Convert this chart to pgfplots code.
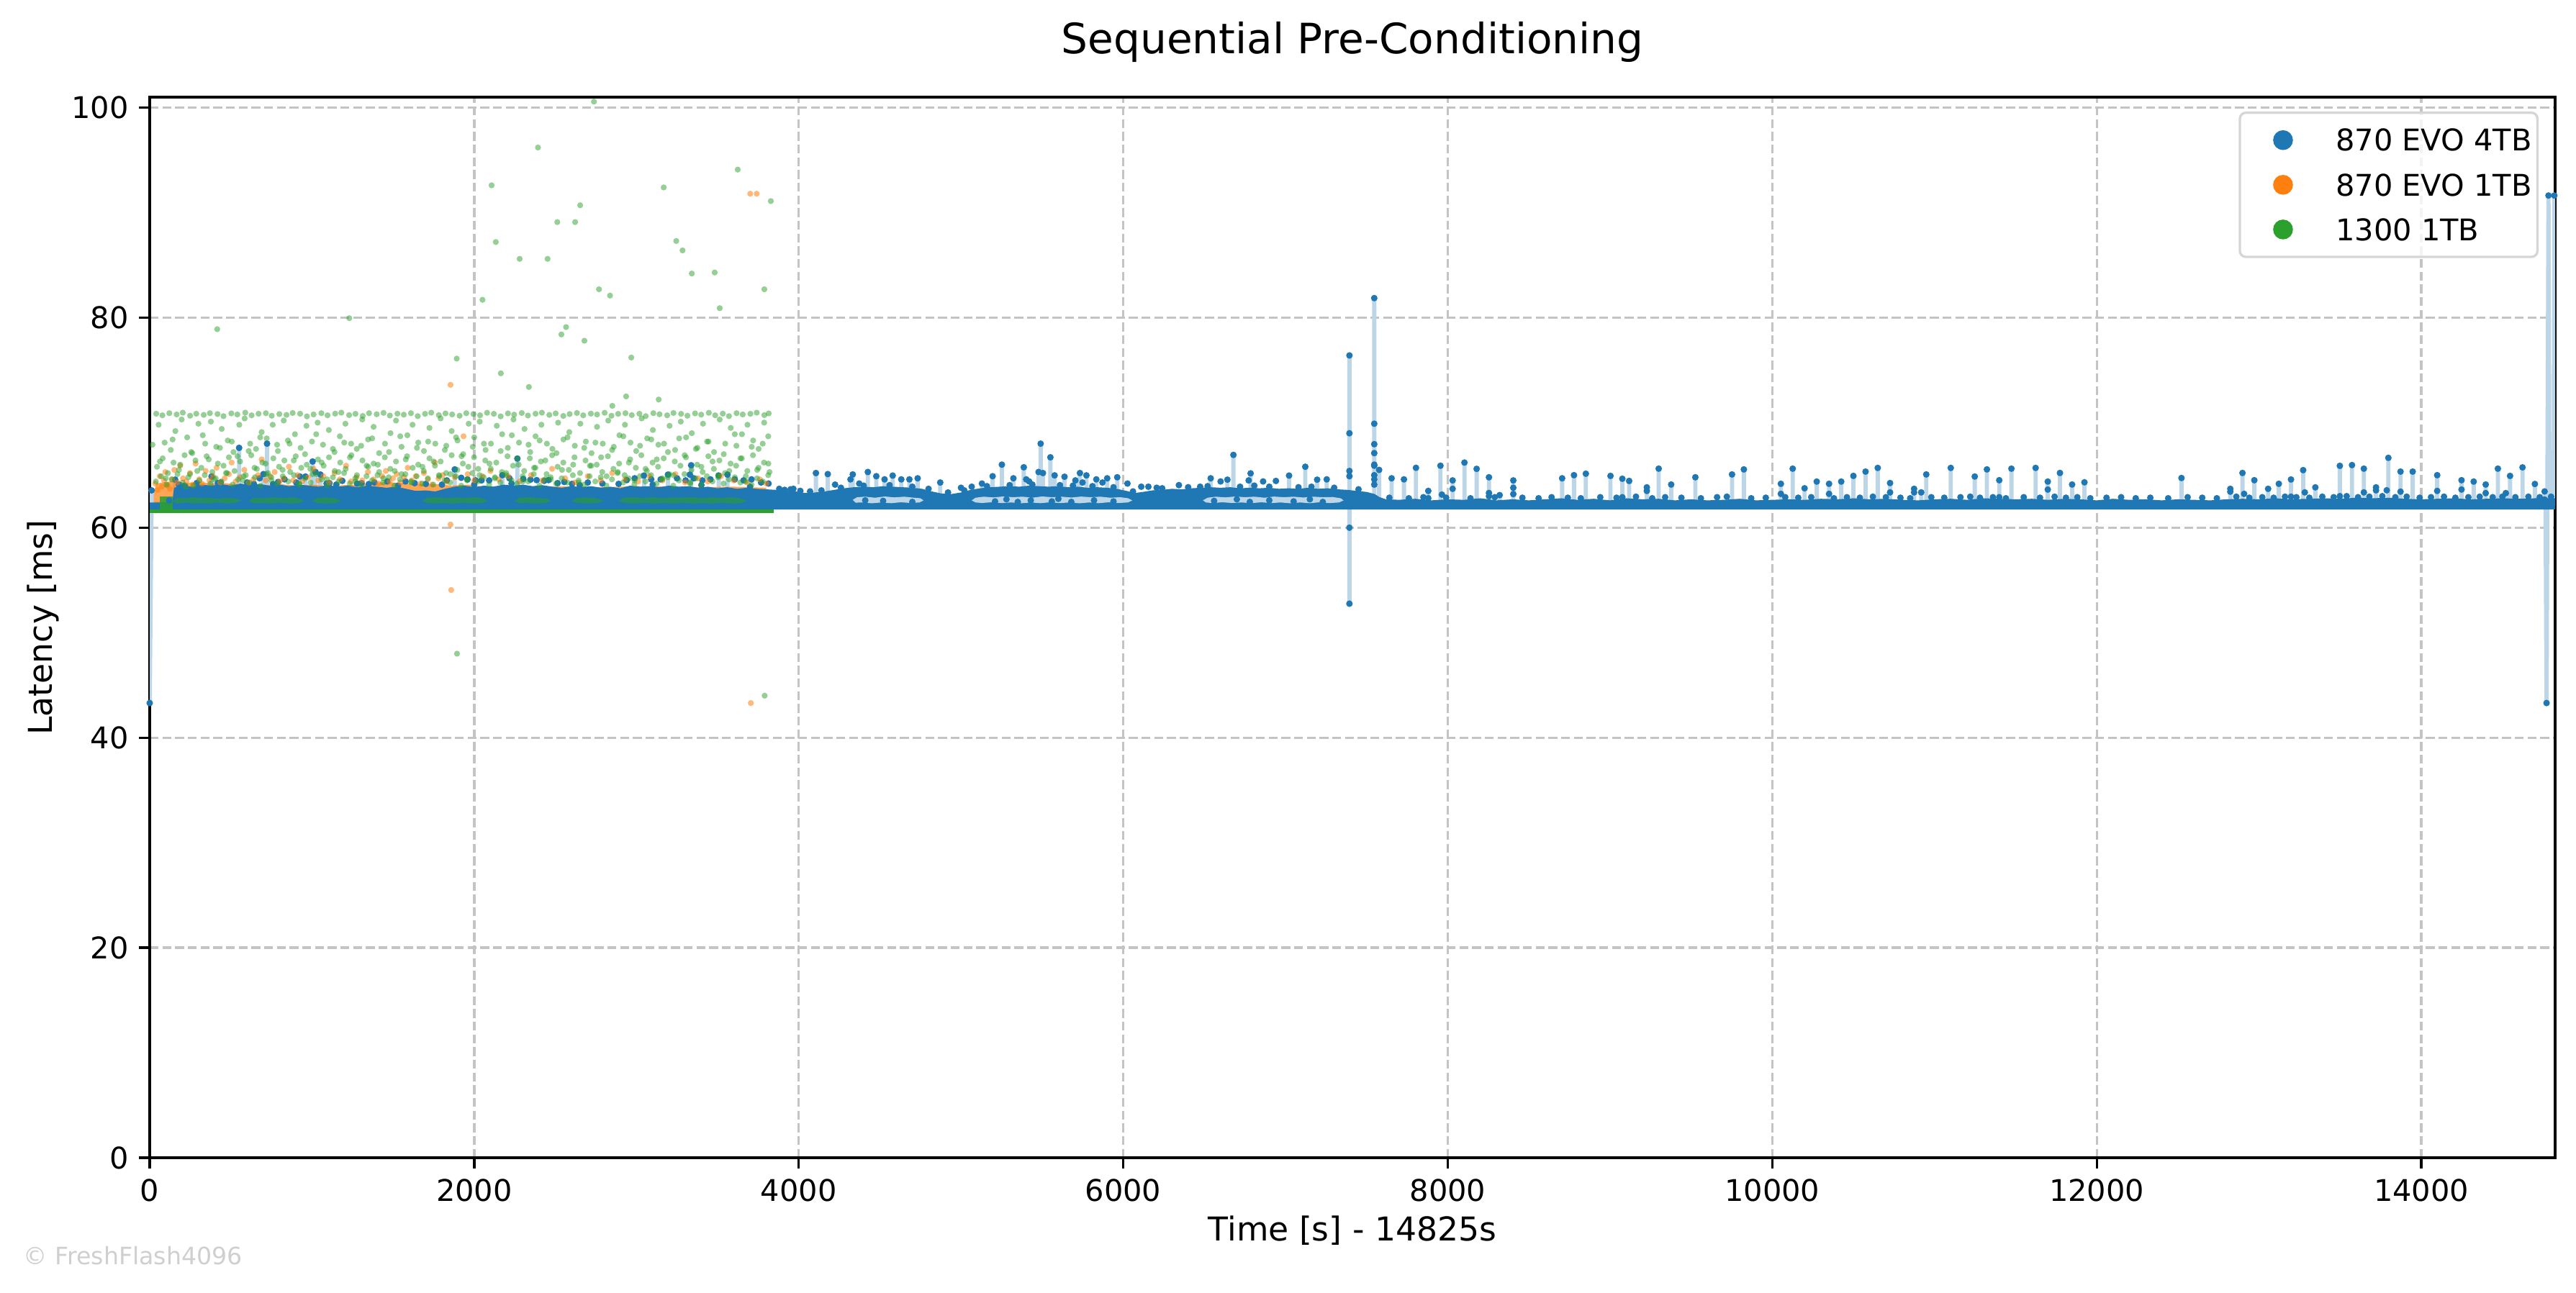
\documentclass[border=0pt]{standalone}
\usepackage{fontspec}
\setmainfont{DejaVu Sans}
\usepackage{pgfplots}
\pgfplotsset{compat=1.18}
\definecolor{c0}{HTML}{1F77B4}
\definecolor{c1}{HTML}{FF7F0E}
\definecolor{c2}{HTML}{2CA02C}
\definecolor{lb}{HTML}{BCD6E8}
\definecolor{gridc}{HTML}{C4C4C4}
\definecolor{legc}{HTML}{D6D6D6}
\definecolor{wm}{HTML}{CFCFCF}
\begin{document}
\begin{tikzpicture}
\useasboundingbox (0,0) rectangle (858.96bp,431.28bp);
\begin{axis}[
  at={(49.92bp,45.12bp)}, anchor=south west,
  width=802.08bp, height=353.76bp, scale only axis,
  xmin=0, xmax=14825, ymin=0, ymax=101,
  xtick={0,2000,4000,6000,8000,10000,12000,14000},
  ytick={0,20,40,60,80,100},
  scaled x ticks=false,
  /pgf/number format/1000 sep={},
  /pgf/number format/assume math mode=true,
  tick label style={font=\fontsize{10}{12}\selectfont},
  xtick pos=bottom, ytick pos=left,
  tick align=outside,
  major tick length=3.5bp,
  tick style={black, line width=0.8bp},
  axis line style={line width=0.8bp, black},
  grid=major,
  major grid style={gridc, line width=0.8bp, dash pattern=on 2.96bp off 1.28bp},
  xlabel={Time [s] - 14825s},
  ylabel={Latency [ms]},
  xlabel style={at={(axis description cs:0.5,-0.0786)}, anchor=base, inner sep=0pt, font=\fontsize{11}{13}\selectfont},
  ylabel style={at={(axis description cs:-0.0405,0.5)}, anchor=base, inner sep=0pt, font=\fontsize{11}{13}\selectfont},
  legend style={at={(axis description cs:1,1)}, anchor=north east, xshift=-5.5bp, yshift=-4.8bp,
    draw=legc, line width=0.8bp, rounded corners=2bp, fill=white, fill opacity=0.8, draw opacity=1, text opacity=1,
    inner xsep=1.85bp, inner ysep=5.5bp, row sep=7.6bp, font=\fontsize{10}{12}\selectfont,
    nodes={inner sep=0pt, text height=7.3bp, text depth=0pt}},
  legend cell align=left,
]
% ---- light blue connecting line of 870 EVO 4TB (spikes)
\addplot[lb, line width=1.4bp, forget plot] coordinates {
(0,43.3)(12,63.55)(14,62.3)
(157,62.3)(157,64.57)(157,62.3)
(381,62.3)(381,64.87)(381,62.3)
(551,62.3)(551,67.6)(551,62.3)
(701,62.3)(701,65.1)(701,62.3)
(723,62.3)(723,68.0)(723,62.3)
(926,62.3)(926,64.87)(926,62.3)
(960,62.3)(960,64.87)(960,62.3)
(1004,62.3)(1004,66.3)(1004,62.3)
(1022,62.3)(1022,65.3)(1022,62.3)
(1052,62.3)(1052,65.06)(1052,62.3)
(1880,62.3)(1880,65.55)(1880,62.3)
(2173,62.3)(2173,65.0)(2173,62.3)
(2266,62.3)(2266,66.58)(2266,62.3)
(3046,62.3)(3046,64.96)(3046,62.3)
(3194,62.3)(3194,65.05)(3194,62.3)
(3337,62.3)(3337,65.94)(3337,62.3)
(3507,62.3)(3507,64.96)(3507,62.3)
(3561,62.3)(3561,65.05)(3561,62.3)
(4106,62.3)(4106,65.2)(4106,62.3)
(4179,62.3)(4179,65.1)(4179,62.3)
(4319,62.3)(4319,64.6)(4319,62.3)
(4333,62.3)(4333,65.07)(4333,62.3)
(4426,62.3)(4426,65.3)(4426,62.3)
(4478,62.3)(4478,64.9)(4478,62.3)
(4529,62.3)(4529,64.6)(4529,62.3)
(4579,62.3)(4579,64.96)(4579,62.3)
(4632,62.3)(4632,64.6)(4632,62.3)
(4682,62.3)(4682,64.6)(4682,62.3)
(4733,62.3)(4733,64.7)(4733,62.3)
(4872,62.3)(4872,64.3)(4872,62.3)
(5129,62.3)(5129,64.2)(5129,62.3)
(5195,62.3)(5195,64.9)(5195,62.3)
(5252,62.3)(5252,66.0)(5252,62.3)
(5323,62.3)(5323,64.7)(5323,62.3)
(5387,62.3)(5387,65.75)(5387,62.3)
(5478,62.3)(5478,65.3)(5478,62.3)
(5491,62.3)(5491,68.0)(5491,62.3)
(5505,62.3)(5505,65.2)(5505,62.3)
(5551,62.3)(5551,66.7)(5551,62.3)
(5577,62.3)(5577,64.98)(5577,62.3)
(5638,62.3)(5638,64.85)(5638,62.3)
(5705,62.3)(5705,64.5)(5705,62.3)
(5733,62.3)(5733,65.2)(5733,62.3)
(5773,62.3)(5773,64.98)(5773,62.3)
(5834,62.3)(5834,64.6)(5834,62.3)
(5901,62.3)(5901,64.7)(5901,62.3)
(5963,62.3)(5963,64.8)(5963,62.3)
(6539,62.3)(6539,64.7)(6539,62.3)
(6642,62.3)(6642,64.57)(6642,62.3)
(6679,62.3)(6679,66.93)(6679,62.3)
(6785,62.3)(6785,65.17)(6785,62.3)
(7022,62.3)(7022,64.96)(7022,62.3)
(7122,62.3)(7122,65.8)(7122,62.3)
(7195,62.3)(7195,64.57)(7195,62.3)
(7254,62.3)(7254,64.6)(7254,62.3)
(7394,62.3)(7394,76.4)(7394,52.76)(7394,62.3)
(7547,62.3)(7547,81.86)(7547,62.3)
(7577,62.3)(7577,65.5)(7577,62.3)
(7654,62.3)(7654,64.7)(7654,62.3)
(7730,62.3)(7730,64.6)(7730,62.3)
(7804,62.3)(7804,65.7)(7804,62.3)
(7880,62.3)(7880,63.5)(7880,62.3)
(7955,62.3)(7955,65.9)(7955,62.3)
(8030,62.3)(8030,64.5)(8030,62.3)
(8103,62.3)(8103,66.2)(8103,62.3)
(8178,62.3)(8178,65.6)(8178,62.3)
(8254,62.3)(8254,64.8)(8254,62.3)
(8320,62.3)(8320,63.1)(8320,62.3)
(8404,62.3)(8404,64.5)(8404,62.3)
(8705,62.3)(8705,64.7)(8705,62.3)
(8778,62.3)(8778,65.0)(8778,62.3)
(8851,62.3)(8851,65.14)(8851,62.3)
(9003,62.3)(9003,64.93)(9003,62.3)
(9076,62.3)(9076,64.66)(9076,62.3)
(9118,62.3)(9118,64.45)(9118,62.3)
(9227,62.3)(9227,63.84)(9227,62.3)
(9300,62.3)(9300,65.62)(9300,62.3)
(9377,62.3)(9377,64.11)(9377,62.3)
(9526,62.3)(9526,64.8)(9526,62.3)
(9752,62.3)(9752,65.07)(9752,62.3)
(9825,62.3)(9825,65.55)(9825,62.3)
(10053,62.3)(10053,64.18)(10053,62.3)
(10126,62.3)(10126,65.62)(10126,62.3)
(10199,62.3)(10199,63.75)(10199,62.3)
(10274,62.3)(10274,64.39)(10274,62.3)
(10350,62.3)(10350,64.18)(10350,62.3)
(10425,62.3)(10425,64.39)(10425,62.3)
(10500,62.3)(10500,64.93)(10500,62.3)
(10575,62.3)(10575,65.34)(10575,62.3)
(10650,62.3)(10650,65.69)(10650,62.3)
(10726,62.3)(10726,64.25)(10726,62.3)
(10874,62.3)(10874,63.7)(10874,62.3)
(10918,62.3)(10918,63.36)(10918,62.3)
(10949,62.3)(10949,65.07)(10949,62.3)
(11100,62.3)(11100,65.69)(11100,62.3)
(11248,62.3)(11248,64.87)(11248,62.3)
(11323,62.3)(11323,65.55)(11323,62.3)
(11399,62.3)(11399,64.52)(11399,62.3)
(11474,62.3)(11474,65.62)(11474,62.3)
(11623,62.3)(11623,65.69)(11623,62.3)
(11698,62.3)(11698,64.39)(11698,62.3)
(11773,62.3)(11773,65.21)(11773,62.3)
(11848,62.3)(11848,64.11)(11848,62.3)
(11924,62.3)(11924,64.32)(11924,62.3)
(12522,62.3)(12522,64.73)(12522,62.3)
(12823,62.3)(12823,63.70)(12823,62.3)
(12898,62.3)(12898,65.21)(12898,62.3)
(12971,62.3)(12971,64.52)(12971,62.3)
(13056,62.3)(13056,63.70)(13056,62.3)
(13122,62.3)(13122,64.18)(13122,62.3)
(13197,62.3)(13197,64.59)(13197,62.3)
(13272,62.3)(13272,65.48)(13272,62.3)
(13347,62.3)(13347,63.84)(13347,62.3)
(13498,62.3)(13498,65.89)(13498,62.3)
(13573,62.3)(13573,65.96)(13573,62.3)
(13646,62.3)(13646,65.62)(13646,62.3)
(13721,62.3)(13721,63.84)(13721,62.3)
(13797,62.3)(13797,66.65)(13797,62.3)
(13872,62.3)(13872,65.34)(13872,62.3)
(13947,62.3)(13947,65.34)(13947,62.3)
(14098,62.3)(14098,65.0)(14098,62.3)
(14248,62.3)(14248,64.52)(14248,62.3)
(14323,62.3)(14323,64.39)(14323,62.3)
(14397,62.3)(14397,64.11)(14397,62.3)
(14472,62.3)(14472,65.62)(14472,62.3)
(14521,62.3)(14521,63.29)(14521,62.3)
(14547,62.3)(14547,64.93)(14547,62.3)
(14624,62.3)(14624,65.74)(14624,62.3)
(14700,62.3)(14700,64.16)(14700,62.3)
(14760,62.3)(14760,63.45)(14766,62.3)
(14772,43.3)(14784,91.63)(14790,62.3)
(14816,62.3)(14820,91.63)
};
% ---- orange dense strip behind the blue band (870 EVO 1TB)
\addplot[fill=c1, fill opacity=0.7, draw=none, forget plot] coordinates {
(25,62.0)(25,63.2)(40,64.2)(100,64.35)(160,64.45)(220,64.25)(300,64.35)(380,64.2)(460,64.25)(540,64.1)
(620,64.2)(700,64.0)(800,64.15)(900,64.0)(1000,64.1)(1100,63.95)(1200,64.05)(1300,64.1)(1380,64.25)
(1460,64.35)(1540,64.25)(1620,64.2)(1700,64.1)(1780,64.15)(1860,64.0)(1960,64.1)(2060,63.9)(2200,64.0)
(2400,63.9)(2600,63.95)(2800,63.85)(3000,63.95)(3200,63.9)(3400,63.85)(3600,63.9)(3800,63.8)(3800,62.0)
};
% ---- dense blue band (870 EVO 4TB)
\addplot[fill=c0, draw=none, forget plot] coordinates {
(0,62.4)(60,62.4)(140,62.5)(150,63.8)(200,64.0)(260,63.9)(320,64.1)(380,64.0)(440,64.15)(500,64.0)
(560,64.2)(620,64.05)(680,64.15)(740,64.0)(800,64.1)(860,63.95)(920,64.1)(980,64.0)(1040,63.9)
(1100,64.05)(1160,63.9)(1220,64.0)(1280,63.85)(1340,64.0)(1400,63.9)(1460,63.8)(1520,63.9)(1580,63.7)
(1640,63.5)(1700,63.55)(1760,63.45)(1820,63.7)(1880,63.9)(1940,64.0)(2000,63.85)(2060,64.0)(2120,63.9)
(2180,64.1)(2240,64.0)(2300,64.1)(2360,63.95)(2420,64.05)(2480,63.9)(2540,63.8)(2600,63.95)(2660,63.85)
(2720,63.95)(2780,63.8)(2840,63.9)(2900,63.75)(2960,64.0)(3020,63.9)(3080,63.95)(3140,63.85)(3200,64.0)
(3260,63.9)(3320,63.95)(3380,63.8)(3440,63.9)(3500,63.75)(3560,63.85)(3620,63.7)(3680,63.8)(3740,63.7)
(3800,63.65)(3860,63.6)(3920,63.55)(3980,63.45)(4040,63.3)(4100,63.35)(4160,63.45)(4220,63.6)(4280,63.75)
(4340,63.85)(4400,63.9)(4460,63.85)(4520,63.95)(4580,63.9)(4640,63.85)(4700,63.8)(4760,63.7)(4820,63.45)
(4880,63.25)(4940,63.2)(5000,63.35)(5060,63.6)(5120,63.75)(5180,63.85)(5240,63.9)(5300,63.95)(5360,63.9)
(5420,64.0)(5480,63.95)(5540,63.9)(5600,63.95)(5660,63.85)(5720,63.9)(5780,63.8)(5840,63.85)(5900,63.8)
(5960,63.7)(6020,63.5)(6070,63.3)(6120,63.4)(6180,63.55)(6240,63.6)(6300,63.7)(6360,63.65)(6420,63.75)
(6480,63.8)(6540,63.85)(6600,63.8)(6660,63.85)(6720,63.75)(6780,63.8)(6840,63.75)(6900,63.8)(6960,63.7)
(7020,63.75)(7080,63.7)(7140,63.8)(7200,63.7)(7260,63.75)(7320,63.65)(7380,63.6)(7440,63.5)(7500,63.4)
(7550,63.2)(7580,62.9)(7620,62.7)(7700,62.65)(7800,62.75)(7900,62.6)(8000,62.7)(8100,62.65)(8200,62.8)
(8300,62.6)(8400,62.7)(8500,62.6)(8600,62.7)(8700,62.8)(8800,62.65)(8900,62.75)(9000,62.6)(9100,62.8)
(9200,62.7)(9300,62.75)(9400,62.6)(9500,62.7)(9600,62.6)(9700,62.65)(9800,62.75)(9900,62.6)(10000,62.65)
(10100,62.7)(10200,62.65)(10300,62.75)(10400,62.7)(10500,62.8)(10600,62.7)(10700,62.75)(10800,62.65)
(10900,62.6)(11000,62.7)(11100,62.75)(11200,62.65)(11300,62.8)(11400,62.75)(11500,62.7)(11600,62.75)
(11700,62.65)(11800,62.75)(11900,62.7)(12000,62.6)(12100,62.75)(12200,62.65)(12300,62.7)(12400,62.6)
(12500,62.7)(12600,62.65)(12700,62.6)(12800,62.7)(12900,62.75)(13000,62.7)(13100,62.8)(13200,62.7)
(13300,62.75)(13400,62.8)(13500,62.75)(13600,62.85)(13700,62.8)(13800,62.85)(13900,62.75)(14000,62.7)
(14100,62.75)(14200,62.8)(14300,62.7)(14400,62.75)(14500,62.8)(14600,62.75)(14700,62.8)(14825,62.8)
(14825,61.72)(0,61.72)
};
% ---- light interiors of the band (line between two latency levels)
\addplot[fill=lb, draw=none, forget plot] coordinates {
(4333,62.65)(4360,62.9)(4410,62.95)(4470,62.85)(4530,62.97)(4590,62.88)(4650,62.95)(4710,62.85)(4750,62.8)
(4769,62.6)(4745,62.4)(4690,62.35)(4630,62.42)(4570,62.33)(4510,62.4)(4450,62.32)(4390,62.4)(4350,62.38)
};
\addplot[fill=lb, draw=none, forget plot] coordinates {
(5066,62.6)(5090,62.85)(5140,62.95)(5200,62.88)(5260,62.97)(5320,62.9)(5380,62.95)(5440,62.85)(5500,62.97)
(5560,62.9)(5620,62.95)(5680,62.87)(5740,62.96)(5800,62.9)(5860,62.95)(5920,62.85)(5980,62.9)(6030,62.8)
(6056,62.6)(6030,62.4)(5970,62.35)(5910,62.42)(5850,62.33)(5790,62.4)(5730,62.32)(5670,62.4)(5610,62.34)
(5550,62.42)(5490,62.33)(5430,62.4)(5370,62.32)(5310,62.4)(5250,62.34)(5190,62.42)(5130,62.35)(5090,62.4)
};
\addplot[fill=lb, draw=none, forget plot] coordinates {
(6491,62.6)(6520,62.85)(6570,62.95)(6630,62.88)(6690,62.97)(6750,62.9)(6810,62.95)(6870,62.85)(6930,62.96)
(6990,62.9)(7050,62.95)(7110,62.87)(7170,62.95)(7230,62.9)(7290,62.92)(7340,62.8)(7358,62.6)(7330,62.4)
(7270,62.34)(7210,62.42)(7150,62.33)(7090,62.4)(7030,62.32)(6970,62.4)(6910,62.34)(6850,62.42)(6790,62.33)
(6730,62.4)(6670,62.35)(6610,62.42)(6550,62.34)(6510,62.4)
};
% ---- blue points
\addplot[c0, only marks, mark=*, mark size=1.1bp, mark options={draw opacity=0}, forget plot] coordinates {
(0,43.3)(12,63.55)(120,62.6)(157,64.57)(216,64.0)(290,64.25)(381,64.87)(437,64.3)(551,67.6)(642,64.17)(678,64.7)
(701,65.1)(723,68.0)(791,64.35)(831,64.6)(903,64.3)(926,64.87)(960,64.87)(1004,66.3)(1022,65.3)(1052,65.06)
(1108,64.24)(1187,64.46)(1278,64.2)(1306,64.24)(1385,64.3)(1464,64.4)(1576,64.4)(1633,64.24)(1702,64.17)
(1801,64.1)(1831,64.5)(1880,65.55)(1920,64.75)(1959,64.6)(2009,64.5)(2045,64.5)(2092,64.5)(2173,65.0)
(2217,64.7)(2266,66.58)(2302,64.64)(2347,64.57)(2385,64.53)(2431,64.46)(2458,64.53)(2514,64.24)(2555,64.35)
(2603,64.17)(2700,64.3)(2790,64.2)(2890,64.17)(2940,64.53)(2989,64.7)(3046,64.96)(3091,64.6)(3149,64.6)
(3194,65.05)(3250,64.7)(3303,64.5)(3329,65.05)(3337,65.94)(3353,64.7)(3406,64.5)(3456,64.6)(3507,64.96)
(3561,65.05)(3606,64.6)(3660,64.5)(3709,64.6)(3768,64.3)(3814,64.2)(3913,63.6)(3967,63.7)
(180,64.1)(420,64.25)(600,64.3)(760,64.15)(1090,64.2)(1150,64.1)(1350,64.15)(1530,64.0)(2000,64.1)
(2230,64.2)(2650,64.05)(3100,64.1)(3400,64.05)(3700,63.9)
(4106,65.2)(4179,65.1)(4224,64.1)(4319,64.6)(4333,65.07)(4373,64.2)(4426,65.3)(4478,64.9)(4529,64.6)
(4579,64.96)(4632,64.6)(4682,64.6)(4733,64.7)(4872,64.3)(5000,63.8)(5066,63.9)(5129,64.2)(5195,64.9)
(5252,66.0)(5323,64.7)(5387,65.75)(5402,64.6)(5420,64.4)(5478,65.3)(5491,68.0)(5505,65.2)(5551,66.7)
(5577,64.98)(5638,64.85)(5705,64.5)(5733,65.2)(5749,64.3)(5773,64.98)(5834,64.6)(5872,64.3)(5901,64.7)
(5963,64.8)(6026,64.2)(6111,63.9)(6155,63.9)(6206,63.8)(6343,64.05)(6474,63.9)(6539,64.7)(6600,64.4)
(6642,64.57)(6679,66.93)(6773,64.5)(6785,65.17)(6808,64.0)(6862,64.4)(6941,64.45)(7022,64.96)(7122,65.8)
(7195,64.57)(7254,64.6)(7394,76.4)(7394,68.99)(7394,65.4)(7394,64.9)(7394,60.0)(7394,52.76)(7547,81.86)
(7547,69.9)(7547,67.95)(7547,67.1)(7547,66.0)(7547,65.9)(7547,65.0)(7547,64.6)(7547,64.1)(7577,65.5)
(3880,63.7)(3950,63.65)(4010,63.5)(4070,63.45)(4140,63.55)(4260,63.8)(4400,64.0)(4560,64.05)(4700,63.9)
(4800,63.7)(4920,63.35)(5020,63.55)(5160,63.95)(5300,64.05)(5440,64.1)(5610,64.05)(5690,64.0)(5810,63.95)
(5940,63.85)(6060,63.45)(6240,63.75)(6400,63.85)(6520,63.95)(6720,63.9)(6900,63.9)(7080,63.85)(7160,63.9)
(7300,63.8)(7450,63.65)
(4410,62.6)(4520,62.55)(4700,62.45)(5210,62.5)(5280,62.7)(5350,62.45)(5430,62.6)(5560,62.5)(5600,62.75)
(5680,62.45)(5820,62.6)(5940,62.5)(6560,62.55)(6700,62.7)(6780,62.45)(6900,62.6)(7050,62.5)(7150,62.7)(7230,62.45)
(7654,64.7)(7730,64.6)(7804,65.7)(7880,63.5)(7880,62.8)(7955,65.9)(7964,63.15)(8030,64.5)(8030,63.7)
(8103,66.2)(8178,65.6)(8254,64.8)(8254,63.3)(8254,63.0)(8320,63.1)(8404,64.5)(8404,63.8)(8404,63.2)
(8705,64.7)(8778,65.0)(8851,65.14)(9003,64.93)(9076,64.66)(9076,62.9)(9118,64.45)(9227,63.84)(9227,63.5)
(9300,65.62)(9377,64.11)(9526,64.8)(9752,65.07)(9825,65.55)(10053,64.18)(10053,63.22)(10126,65.62)
(10199,63.75)(10274,64.39)(10350,64.18)(10350,63.22)(10425,64.39)(10500,64.93)(10575,65.34)(10650,65.69)
(10726,64.25)(10726,63.36)(10874,63.7)(10874,63.36)(10918,63.36)(10949,65.07)(11100,65.69)(11248,64.87)
(11323,65.55)(11399,64.52)(11399,62.9)(11474,65.62)(11623,65.69)(11698,64.39)(11698,63.63)(11773,65.21)
(11848,64.11)(11924,64.32)(12522,64.73)(12823,63.70)(12823,63.43)(12898,65.21)(12908,63.22)(12971,64.52)
(13056,63.70)(13122,64.18)(13197,64.59)(13197,62.95)(13272,65.48)(13282,63.36)(13347,63.84)(13498,65.89)
(13498,63.0)(13573,65.96)(13646,65.62)(13646,63.36)(13721,63.84)(13721,63.56)(13797,66.65)(13787,63.56)
(13872,65.34)(13872,63.43)(13947,65.34)(14098,65.0)(14098,63.5)(14248,64.52)(14248,63.63)(14323,64.39)
(14397,64.11)(14397,63.29)(14472,65.62)(14521,63.29)(14547,64.93)(14624,65.74)(14700,64.16)(14760,63.45)
(14760,62.68)(14772,43.3)(14784,91.63)(14820,91.63)
(7640,62.85)(7760,62.8)(7850,62.9)(7990,62.85)(8140,62.8)(8290,62.9)(8460,62.85)(8560,62.8)(8640,62.9)
(8740,62.85)(8820,62.8)(8940,62.9)(9040,62.85)(9160,62.95)(9260,62.8)(9340,62.9)(9440,62.85)(9560,62.8)
(9660,62.9)(9720,62.95)(9870,62.8)(9960,62.85)(10080,62.9)(10160,62.85)(10240,62.9)(10380,62.8)(10460,62.9)
(10540,62.85)(10620,62.95)(10700,62.9)(10790,62.85)(10850,62.8)(10980,62.9)(11060,62.85)(11160,62.9)
(11220,62.95)(11280,62.85)(11360,62.9)(11440,62.8)(11550,62.9)(11650,62.85)(11740,62.95)(11810,62.85)
(11880,62.9)(11960,62.8)(12060,62.85)(12150,62.9)(12240,62.8)(12330,62.85)(12440,62.8)(12560,62.9)
(12650,62.85)(12740,62.8)(12860,62.95)(12940,62.85)(13020,62.9)(13090,62.85)(13160,62.95)(13230,62.9)
(13310,62.85)(13390,62.95)(13460,62.9)(13540,63.0)(13610,62.9)(13680,62.95)(13760,63.0)(13840,62.9)
(13910,62.95)(13990,62.85)(14060,62.9)(14140,62.95)(14210,62.85)(14290,62.9)(14360,62.95)(14440,62.9)
(14500,62.95)(14580,62.9)(14660,62.95)(14730,62.9)(14800,62.95)
};
% ---- orange points (870 EVO 1TB)
\addplot[c1, only marks, mark=*, mark size=1.0bp, mark options={draw opacity=0, fill opacity=0.55}, forget plot] coordinates {
(35,64.2)(48,63.6)(62,64.9)(75,63.9)(88,64.5)(96,65.3)(110,64.0)(124,63.7)(138,64.6)(152,65.5)(170,64.3)
(188,65.9)(205,64.7)(226,64.4)(248,65.2)(266,64.1)(283,66.1)(305,64.6)(322,64.2)(345,65.4)(368,64.5)
(390,64.9)(412,65.7)(435,64.3)(462,64.7)(488,65.1)(505,66.2)(530,64.4)(556,64.8)(583,65.5)(610,64.3)
(640,64.6)(668,65.0)(690,66.5)(715,64.5)(742,64.9)(770,65.3)(800,64.4)(826,64.7)(858,65.8)(885,64.5)
(912,65.0)(940,64.4)(975,64.8)(1010,65.6)(1040,64.5)(1070,64.9)(1105,64.3)(1140,65.2)(1172,64.6)
(1210,65.9)(1240,64.4)(1275,64.8)(1310,64.5)(1345,65.3)(1380,64.6)(1410,64.2)(1432,64.9)(1455,65.4)
(1478,64.4)(1500,64.7)(1522,65.1)(1545,64.3)(1568,64.8)(1590,65.7)(1615,64.5)(1640,64.9)(1668,64.2)
(1690,65.2)(1715,64.6)(1740,64.1)(1757,66.2)(1780,64.7)(1805,65.0)(1830,64.4)(1854,73.6)(1854,60.3)
(1858,54.06)(1880,64.8)(1934,68.7)(1960,65.1)(2000,64.5)(2050,64.9)(2100,65.4)(2150,64.6)(2210,64.9)
(2280,64.4)(2350,65.0)(2420,64.5)(2480,65.6)(2560,64.7)(2620,64.3)(2700,64.9)(2780,64.5)(2850,65.2)
(2930,64.6)(3010,64.4)(3080,64.9)(3160,64.5)(3240,65.1)(3300,64.3)(3380,64.7)(3440,64.4)(3520,64.9)
(3600,64.5)(3680,64.3)(3705,43.3)(3701,91.8)(3741,91.8)(3760,64.6)(3800,64.2)
};
% ---- green dense parts (1300 1TB)
\addplot[fill=c2, fill opacity=0.6, draw=none, forget plot] coordinates {
(140,62.5)(170,62.85)(220,62.8)(270,62.9)(320,62.8)(370,62.85)(420,62.75)(470,62.85)(520,62.8)(570,62.6)
(520,62.35)(470,62.3)(420,62.4)(370,62.3)(320,62.35)(270,62.3)(220,62.4)(170,62.3)};
\addplot[fill=c2, fill opacity=0.6, draw=none, forget plot] coordinates {
(610,62.55)(640,62.85)(700,62.8)(760,62.9)(820,62.82)(880,62.88)(930,62.75)(950,62.55)(920,62.35)(860,62.3)
(800,62.38)(740,62.3)(680,62.36)(640,62.32)};
\addplot[fill=c2, fill opacity=0.6, draw=none, forget plot] coordinates {
(1000,62.55)(1030,62.82)(1090,62.88)(1150,62.78)(1180,62.55)(1150,62.35)(1090,62.3)(1030,62.36)};
\addplot[fill=c2, fill opacity=0.6, draw=none, forget plot] coordinates {
(1680,62.55)(1710,62.85)(1770,62.9)(1830,62.8)(1890,62.88)(1950,62.82)(2010,62.9)(2060,62.75)(2080,62.55)
(2050,62.35)(1990,62.3)(1930,62.38)(1870,62.3)(1810,62.36)(1750,62.3)(1710,62.38)};
\addplot[fill=c2, fill opacity=0.6, draw=none, forget plot] coordinates {
(2250,62.55)(2280,62.85)(2340,62.9)(2400,62.8)(2450,62.78)(2470,62.55)(2440,62.35)(2380,62.3)(2320,62.38)(2280,62.32)};
\addplot[fill=c2, fill opacity=0.6, draw=none, forget plot] coordinates {
(2600,62.55)(2630,62.82)(2690,62.88)(2750,62.8)(2800,62.55)(2760,62.35)(2700,62.3)(2640,62.36)};
\addplot[fill=c2, fill opacity=0.6, draw=none, forget plot] coordinates {
(2890,62.55)(2920,62.85)(2980,62.9)(3040,62.82)(3100,62.9)(3160,62.8)(3220,62.88)(3280,62.85)(3340,62.92)
(3400,62.8)(3460,62.88)(3520,62.82)(3580,62.9)(3640,62.78)(3680,62.55)(3650,62.35)(3590,62.3)(3530,62.38)
(3470,62.3)(3410,62.36)(3350,62.3)(3290,62.38)(3230,62.3)(3170,62.36)(3110,62.3)(3050,62.38)(2990,62.3)(2930,62.36)};
\addplot[fill=c2, fill opacity=0.85, draw=none, forget plot] coordinates {
(60,61.75)(60,63.0)(142,63.0)(142,61.75)};
\addplot[fill=c2, draw=none, forget plot] coordinates {
(0,61.37)(3845,61.37)(3845,61.75)(0,61.75)};
% ---- green points
\addplot[c2, only marks, mark=*, mark size=1.0bp, mark options={draw opacity=0, fill opacity=0.5}, forget plot] coordinates {
(2738,100.57)(2393,96.2)(2107,92.6)(3168,92.4)(3624,94.1)(3828,91.1)(2653,90.7)(2512,89.1)(2622,89.1)
(2133,87.2)(3245,87.3)(3284,86.4)(2280,85.6)(2452,85.6)(3341,84.2)(3482,84.3)(3788,82.7)(2769,82.7)
(2837,82.1)(3513,80.9)(2051,81.7)(416,78.9)(1230,79.95)(2537,78.4)(2566,79.1)(2679,77.8)(1892,76.1)
(2164,74.7)(2337,73.4)(2968,76.2)(2936,72.5)(3137,72.2)(2851,71.6)(1894,48.0)(3790,44.0)
(40,70.85)(78,70.7)(121,70.9)(166,70.78)(204,70.95)(249,70.66)(287,70.85)(333,70.74)(371,70.9)(418,70.82)
(455,70.62)(503,70.88)(540,70.78)(589,70.95)(628,70.7)(671,70.85)(716,70.9)(752,70.66)(799,70.82)(843,70.74)
(881,70.92)(927,70.85)(969,70.6)(1010,70.78)(1058,70.9)(1096,70.7)(1143,70.86)(1181,70.95)(1229,70.72)
(1268,70.84)(1313,70.64)(1352,70.9)(1399,70.8)(1441,70.93)(1480,70.68)(1527,70.86)(1566,70.76)(1610,70.9)
(1652,70.62)(1697,70.84)(1735,70.95)(1782,70.72)(1823,70.88)(1864,70.78)(1910,70.66)(1951,70.9)(1995,70.82)
(2036,70.7)(2079,70.94)(2121,70.84)(2163,70.6)(2208,70.88)(2246,70.76)(2293,70.92)(2331,70.68)(2378,70.85)
(2417,70.95)(2463,70.74)(2502,70.88)(2549,70.64)(2588,70.82)(2633,70.92)(2672,70.7)(2719,70.86)(2757,70.78)
(2804,70.94)(2846,70.66)(2887,70.84)(2932,70.9)(2971,70.72)(3018,70.85)(3057,70.62)(3104,70.9)(3142,70.8)
(3189,70.7)(3228,70.92)(3275,70.84)(3314,70.66)(3361,70.88)(3399,70.76)(3446,70.94)(3485,70.7)(3532,70.86)
(3570,70.62)(3617,70.9)(3655,70.78)(3702,70.84)(3741,70.95)(3788,70.72)(3815,70.88)
(55,69.8)(92,68.1)(130,67.4)(158,69.2)(197,70.3)(231,68.6)(262,67.1)(300,69.9)(342,68.0)(377,70.1)(410,67.7)
(444,69.4)(481,68.3)(516,67.2)(552,69.8)(585,70.4)(619,68.0)(655,67.5)(690,69.1)(721,68.5)(758,69.8)(790,67.3)
(826,70.2)(862,68.0)(895,68.9)(930,67.6)(966,69.7)(1000,68.2)(1035,70.0)(1068,67.9)(1104,69.3)(1139,67.2)
(1172,68.7)(1206,69.9)(1241,68.0)(1276,67.5)(1310,70.3)(1346,68.4)(1380,69.6)(1414,67.1)(1450,68.0)(1484,69.0)
(1518,70.2)(1552,67.7)(1588,68.8)(1620,69.8)(1655,68.1)(1690,67.3)(1724,69.5)(1760,68.0)(1793,70.4)(1828,67.8)
(1861,69.2)(1897,68.3)(1932,67.0)(1966,69.9)(2000,68.6)(2034,70.1)(2070,67.4)(2103,68.0)(2139,69.7)(2172,68.9)
(2207,67.6)(2242,70.3)(2276,68.1)(2310,69.4)(2345,67.2)(2378,68.7)(2414,69.8)(2448,68.0)(2482,67.5)(2517,70.0)
(2550,68.4)(2586,69.1)(2620,67.8)(2654,69.9)(2688,68.2)(2723,67.1)(2757,69.6)(2792,68.0)(2826,70.2)(2860,67.7)
(2895,68.8)(2929,69.8)(2963,68.1)(2998,67.3)(3032,70.4)(3066,68.5)(3101,69.3)(3135,67.9)(3170,68.0)(3204,69.7)
(3238,67.4)(3273,70.1)(3306,68.6)(3341,69.0)(3375,67.6)(3410,69.9)(3444,68.2)(3478,67.2)(3513,70.3)(3547,68.0)
(3581,69.5)(3616,67.8)(3650,68.9)(3684,69.8)(3719,68.3)(3753,67.5)(3787,70.0)(3812,68.7)
(45,65.8)(80,66.6)(112,65.2)(147,66.2)(180,65.5)(215,66.9)(248,65.1)(282,66.4)(318,65.7)(351,66.8)(386,65.3)
(420,66.1)(455,65.9)(488,66.7)(523,65.4)(557,66.3)(592,65.0)(626,66.9)(660,65.6)(694,66.2)(729,65.2)(762,66.6)
(797,65.8)(830,66.4)(866,65.3)(900,66.8)(934,65.7)(968,66.0)(1003,65.1)(1037,66.5)(1072,65.9)(1105,66.7)
(1140,65.4)(1174,66.2)(1208,65.6)(1243,66.9)(1277,65.0)(1311,66.4)(1346,65.8)(1380,66.1)(1414,65.3)(1449,66.7)
(1483,65.6)(1518,66.3)(1552,65.1)(1586,66.8)(1621,65.7)(1655,66.0)(1689,65.4)(1724,66.6)(1758,65.9)(1793,66.3)
(1827,65.2)(1861,66.9)(1896,65.5)(1930,66.1)(1964,65.8)(1999,66.7)(2033,65.0)(2068,66.4)(2102,65.6)(2136,66.2)
(2171,65.3)(2205,66.8)(2239,65.9)(2274,66.0)(2308,65.4)(2343,66.6)(2377,65.7)(2411,66.3)(2446,65.1)(2480,66.9)
(2514,65.8)(2549,66.2)(2583,65.5)(2618,66.7)(2652,65.2)(2686,66.4)(2721,65.9)(2755,66.0)(2789,65.3)(2824,66.8)
(2858,65.6)(2893,66.1)(2927,65.0)(2961,66.5)(2996,65.7)(3030,66.9)(3064,65.4)(3099,66.2)(3133,65.8)(3168,66.6)
(3202,65.1)(3236,66.3)(3271,65.9)(3305,66.7)(3339,65.5)(3374,66.0)(3408,65.3)(3443,66.8)(3477,65.6)(3511,66.4)
(3546,65.2)(3580,66.1)(3614,65.9)(3649,66.6)(3683,65.4)(3718,66.9)(3752,65.7)(3786,66.2)(3820,65.3)
(38,64.4)(70,64.9)(104,64.1)(136,64.6)(171,65.1)(203,64.3)(238,64.8)(271,64.0)(306,64.5)(339,65.0)(374,64.2)
(407,64.7)(442,64.4)(476,65.2)(511,64.1)(545,64.6)(579,64.9)(614,64.3)(648,64.8)(682,64.0)(717,65.1)(751,64.5)
(785,64.2)(820,64.9)(854,64.4)(889,65.0)(923,64.1)(957,64.7)(992,64.3)(1026,65.1)(1061,64.6)(1095,64.0)
(1129,64.8)(1164,64.4)(1198,65.2)(1233,64.2)(1267,64.7)(1301,64.1)(1336,64.9)(1370,64.5)(1404,65.0)(1439,64.3)
(1473,64.8)(1508,64.0)(1542,64.6)(1576,65.1)(1611,64.4)(1645,64.9)(1680,64.2)(1714,64.7)(1748,64.1)(1783,65.0)
(1817,64.5)(1852,64.3)(1886,64.9)(1920,64.0)(1955,64.6)(1989,65.2)(2024,64.4)(2058,64.8)(2092,64.1)(2127,64.7)
(2161,64.3)(2196,65.0)(2230,64.5)(2264,64.2)(2299,64.9)(2333,64.4)(2367,65.1)(2402,64.0)(2436,64.6)(2471,64.8)
(2505,64.2)(2539,64.7)(2574,64.3)(2608,65.0)(2643,64.5)(2677,64.1)(2711,64.9)(2746,64.4)(2780,64.8)(2815,64.0)
(2849,64.6)(2883,65.2)(2918,64.3)(2952,64.7)(2987,64.1)(3021,64.9)(3055,64.4)(3090,65.0)(3124,64.2)(3159,64.6)
(3193,64.8)(3227,64.0)(3262,64.5)(3296,65.1)(3331,64.3)(3365,64.7)(3399,64.1)(3434,64.9)(3468,64.4)(3503,65.0)
(3537,64.2)(3571,64.6)(3606,64.8)(3640,64.3)(3674,64.9)(3709,64.1)(3743,64.7)(3778,64.4)(3812,65.0)
(17,67.9)(63,66.3)(99,64.7)(141,68.4)(188,66.0)(223,63.9)(256,67.2)(293,65.4)(327,68.8)(364,66.5)(398,64.6)
(433,67.6)(470,65.2)(506,68.2)(541,66.8)(575,64.5)(610,67.3)(646,65.7)(681,68.6)(714,66.1)(749,64.8)(785,67.9)
(819,65.5)(852,68.3)(888,66.4)(921,64.2)(957,67.0)(990,65.6)(1026,68.9)(1060,66.2)(1093,64.6)(1129,67.5)
(1163,65.3)(1199,68.1)(1234,66.7)(1268,64.4)(1303,67.8)(1337,65.9)(1371,68.5)(1406,66.0)(1440,64.7)(1475,67.2)
(1510,65.4)(1544,68.7)(1578,66.5)(1613,64.3)(1647,67.6)(1681,65.8)(1716,68.2)(1750,66.3)(1785,64.9)(1819,67.4)
(1853,65.1)(1888,68.6)(1922,66.8)(1956,64.5)(1991,67.7)(2025,65.6)(2060,68.0)(2094,66.1)(2128,64.8)(2163,67.3)
(2197,65.2)(2232,68.8)(2266,66.6)(2300,64.4)(2335,67.9)(2369,65.7)(2403,68.3)(2438,66.4)(2472,64.6)(2507,67.1)
(2541,65.5)(2575,68.6)(2610,66.0)(2644,64.3)(2678,67.6)(2713,65.9)(2747,68.1)(2782,66.7)(2816,64.9)(2850,67.4)
(2885,65.3)(2919,68.7)(2953,66.2)(2988,64.5)(3022,67.8)(3056,65.6)(3091,68.4)(3125,66.5)(3160,64.7)(3194,67.2)
(3228,65.0)(3263,68.5)(3297,66.9)(3331,64.2)(3366,67.5)(3400,65.8)(3435,68.2)(3469,66.3)(3503,64.8)(3538,67.0)
(3572,65.4)(3606,68.9)(3641,66.6)(3675,64.4)(3710,67.7)(3744,65.5)(3778,68.0)(3813,66.1)
};
% ---- legend
\addlegendimage{legend image code/.code={\path[draw=none,fill=none] (0bp,-2.9bp) rectangle (30.15bp,2.9bp); \fill[c0, fill opacity=1] (12.55bp,0bp) circle (2.9bp);}}
\addlegendentry{870 EVO 4TB}
\addlegendimage{legend image code/.code={\path[draw=none,fill=none] (0bp,-2.9bp) rectangle (30.15bp,2.9bp); \fill[c1, fill opacity=1] (12.55bp,0bp) circle (2.9bp);}}
\addlegendentry{870 EVO 1TB}
\addlegendimage{legend image code/.code={\path[draw=none,fill=none] (0bp,-2.9bp) rectangle (30.15bp,2.9bp); \fill[c2, fill opacity=1] (12.55bp,0bp) circle (2.9bp);}}
\addlegendentry{1300 1TB}
\end{axis}
\node[anchor=base, inner sep=0pt, font=\fontsize{14}{16}\selectfont] at (450.96bp,413.28bp) {Sequential Pre-Conditioning};
\node[anchor=base west, inner sep=0pt, text=wm, font=\fontsize{8}{10}\selectfont] at (7.7bp,9.4bp) {© FreshFlash4096};
\end{tikzpicture}
\end{document}
